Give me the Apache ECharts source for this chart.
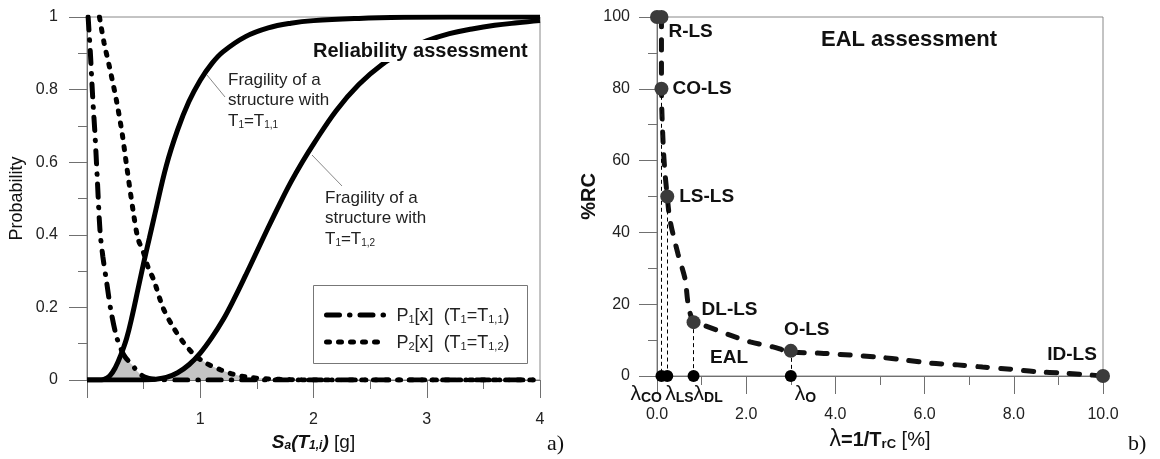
<!DOCTYPE html>
<html>
<head>
<meta charset="utf-8">
<script src="https://cdn.jsdelivr.net/npm/echarts@6.0.0/dist/echarts.min.js"></script>
<style>
  html, body { margin: 0; padding: 0; background: #fff; }
  #chart { width: 1160px; height: 459px; }
</style>
</head>
<body>
<div id="chart"></div>
<script>
// ---- a) reliability assessment ----
const frag1X = [0, 0.1, 0.15, 0.2, 0.25, 0.3, 0.35, 0.4, 0.45, 0.5, 0.55, 0.6, 0.7, 0.8, 0.9, 1.0, 1.1, 1.2, 1.4, 1.6, 1.8, 2.0, 2.4, 2.8, 3.2, 3.6, 4.0];
const frag1P = [0, 0, 0.002, 0.011, 0.034, 0.07, 0.115, 0.178, 0.25, 0.322, 0.39, 0.458, 0.59, 0.689, 0.767, 0.826, 0.871, 0.904, 0.946, 0.97, 0.983, 0.99, 0.996, 0.999, 1, 1, 1];

const frag2X = [0, 0.5, 0.6, 0.7, 0.8, 0.9, 1.0, 1.1, 1.2, 1.3, 1.4, 1.5, 1.6, 1.7, 1.8, 1.9, 2.0, 2.2, 2.4, 2.6, 2.8, 3.0, 3.2, 3.4, 3.6, 3.8, 4.0];
const frag2P = [0, 0, 0.002, 0.007, 0.02, 0.042, 0.074, 0.116, 0.165, 0.224, 0.288, 0.354, 0.42, 0.484, 0.545, 0.6, 0.65, 0.742, 0.814, 0.868, 0.906, 0.934, 0.954, 0.967, 0.977, 0.984, 0.99];

const p1X = [0.01, 0.02, 0.03, 0.05, 0.07, 0.09, 0.115, 0.14, 0.175, 0.21, 0.26, 0.31, 0.34, 0.4, 0.45, 0.51, 0.6, 0.8, 1, 1.5, 2, 2.5, 3, 3.5, 4];
const p1P = [1, 0.95, 0.9, 0.78, 0.68, 0.56, 0.41, 0.34, 0.266, 0.193, 0.12, 0.078, 0.062, 0.041, 0.022, 0.008, 0.002, 0, 0, 0, 0, 0, 0, 0, 0];

const p2X = [0.11, 0.15, 0.2, 0.26, 0.31, 0.35, 0.41, 0.45, 0.5, 0.54, 0.59, 0.67, 0.76, 0.86, 0.96, 1.06, 1.18, 1.29, 1.41, 1.6, 1.8, 2, 2.5, 3, 3.5, 4];
const p2P = [1, 0.93, 0.86, 0.77, 0.68, 0.59, 0.46, 0.39, 0.35, 0.31, 0.275, 0.2, 0.146, 0.1, 0.066, 0.045, 0.028, 0.016, 0.008, 0.003, 0.001, 0, 0, 0, 0, 0];

// overlap areas (hatched)
const shade1X = [0.15, 0.2, 0.25, 0.3, 0.32, 0.36, 0.4, 0.45, 0.51, 0.6];
const shade1P = [0, 0.011, 0.034, 0.068, 0.072, 0.054, 0.041, 0.022, 0.008, 0];
const shade2X = [0.55, 0.6, 0.7, 0.8, 0.9, 0.96, 1.06, 1.18, 1.29, 1.41, 1.6, 1.8];
const shade2P = [0, 0.002, 0.007, 0.02, 0.042, 0.064, 0.045, 0.028, 0.016, 0.008, 0.003, 0];

// ---- b) EAL assessment ----
const lsNames = ['', 'R-LS', 'CO-LS', 'LS-LS', 'DL-LS', 'O-LS', 'ID-LS'];
const lsLambda = [0, 0.1, 0.1, 0.23, 0.82, 3.0, 10.0];
const lsRC = [100, 100, 80, 50, 15, 7, 0];

const ealX = [0.1, 0.1, 0.14, 0.18, 0.23, 0.29, 0.47, 0.63, 0.7, 0.82, 1.03, 1.64, 2.09, 2.6, 3.0, 3.74, 5.0, 5.53, 6.13, 6.74, 7.3, 7.93, 8.5, 9.1, 9.7, 10];
const ealRC = [100, 80, 64, 56.5, 50, 43.5, 34, 27, 20, 15, 14.2, 11.4, 9.5, 8.1, 6.7, 6.3, 5.2, 4.5, 3.6, 3.1, 2.5, 1.9, 1.2, 0.8, 0.3, 0];

const lambdaNames = ['CO', 'LS', 'DL', 'O'];
const lambdaX = [0.1, 0.23, 0.82, 3.0];
const lambdaRC = [80, 50, 15, 7];

const FONT = "'Liberation Sans', Arial, sans-serif";
const pairs = (xs, ys) => xs.map((x, i) => [x, ys[i]]);

const annRich = {
  n: { fontSize: 17, lineHeight: 20, verticalAlign: 'bottom', fontFamily: FONT, color: '#222' },
  s: { fontSize: 10, lineHeight: 10, verticalAlign: 'bottom', fontFamily: FONT, color: '#222' }
};
const legendRich = {
  n: { fontSize: 18, lineHeight: 20, verticalAlign: 'bottom', fontFamily: FONT, color: '#222' },
  s: { fontSize: 11, lineHeight: 11, verticalAlign: 'bottom', fontFamily: FONT, color: '#222' },
  g: { width: 7 }
};

const legendText = {
  P1: '{g|}{n|P}{s|1}{n|[x]  (T}{s|1}{n|=T}{s|1,1}{n|)}',
  P2: '{g|}{n|P}{s|2}{n|[x]  (T}{s|1}{n|=T}{s|1,2}{n|)}'
};

const axisGray = '#707070';
const baseX = {
  type: 'value',
  nameLocation: 'middle',
  axisLine: { show: true, lineStyle: { color: axisGray, width: 1 } },
  axisTick: { show: true, length: 18, lineStyle: { color: axisGray } },
  minorTick: { show: true, splitNumber: 2, length: 9, lineStyle: { color: axisGray } },
  splitLine: { show: false },
  minorSplitLine: { show: false },
  axisLabel: { color: '#222', fontSize: 16, fontFamily: FONT, margin: 29 }
};

const lsLabelCfg = [
  null,
  { position: 'right', offset: [-5, 15] },
  { position: 'right', offset: [-1, 0] },
  { position: 'right', offset: [0, 0] },
  { position: 'right', offset: [-4, -12] },
  { position: 'top', offset: [16, 0] },
  { position: 'top', offset: [-31, 0] }
];
const lambdaLabelCfg = [
  { position: [6.5, 13], align: 'right' },
  { position: [4, 13], align: 'left' },
  { position: [6, 13], align: 'left' },
  { position: [10, 13], align: 'left' }
];

const chart = echarts.init(document.getElementById('chart'));

chart.setOption({
  animation: false,
  backgroundColor: '#fff',
  textStyle: { fontFamily: FONT },
  grid: [
    { left: 87, top: 17, width: 453, height: 363, show: true, borderColor: '#888', borderWidth: 1 },
    { left: 657, top: 17, width: 446, height: 359, show: true, borderColor: '#888', borderWidth: 1 }
  ],
  xAxis: [
    Object.assign({}, baseX, {
      gridIndex: 0, min: 0, max: 4, interval: 1,
      axisLabel: Object.assign({}, baseX.axisLabel, { margin: 32, formatter: v => (v === 0 ? '' : String(v)) }),
      name: '{bi|S}{bis|a}{bi|(T}{bis|1,i}{bi|)}{n| [g]}',
      nameGap: 45,
      nameTextStyle: {
        rich: {
          bi: { fontSize: 19, fontWeight: 'bold', fontStyle: 'italic', lineHeight: 22, verticalAlign: 'bottom', color: '#111', fontFamily: FONT },
          bis: { fontSize: 12, fontWeight: 'bold', fontStyle: 'italic', lineHeight: 12, verticalAlign: 'bottom', color: '#111', fontFamily: FONT },
          n: { fontSize: 19, lineHeight: 22, verticalAlign: 'bottom', color: '#111', fontFamily: FONT }
        }
      }
    }),
    Object.assign({}, baseX, {
      gridIndex: 1, min: 0, max: 10, interval: 2,
      axisLabel: Object.assign({}, baseX.axisLabel, { margin: 31, formatter: v => v.toFixed(1) }),
      name: '{l|λ}{b|=1/T}{bs|rC}{n| [%]}',
      nameGap: 45,
      nameTextStyle: {
        rich: {
          l: { fontSize: 23, lineHeight: 24, verticalAlign: 'bottom', color: '#111', fontFamily: FONT },
          b: { fontSize: 20, fontWeight: 'bold', lineHeight: 24, verticalAlign: 'bottom', color: '#111', fontFamily: FONT },
          bs: { fontSize: 13, fontWeight: 'bold', lineHeight: 13, verticalAlign: 'bottom', color: '#111', fontFamily: FONT },
          n: { fontSize: 20, lineHeight: 24, verticalAlign: 'bottom', color: '#111', fontFamily: FONT }
        }
      }
    })
  ],
  yAxis: [
    Object.assign({}, baseX, {
      gridIndex: 0, min: 0, max: 1, interval: 0.2,
      axisLabel: Object.assign({}, baseX.axisLabel, { margin: 29 }),
      name: 'Probability',
      nameGap: 61,
      nameTextStyle: { fontSize: 18, color: '#111', fontFamily: FONT }
    }),
    Object.assign({}, baseX, {
      gridIndex: 1, min: 0, max: 100, interval: 20,
      axisLabel: Object.assign({}, baseX.axisLabel, { margin: 27 }),
      name: '%RC',
      nameGap: 43,
      nameTextStyle: { fontSize: 20, fontWeight: 'bold', color: '#111', fontFamily: FONT }
    })
  ],
  legend: {
    data: ['P1', 'P2'],
    orient: 'vertical',
    left: 319,
    top: 302,
    itemWidth: 58,
    itemHeight: 14,
    itemGap: 9,
    selectedMode: false,
    lineStyle: { width: 5 },
    itemStyle: { color: 'rgba(0,0,0,0)', borderWidth: 0, opacity: 0 },
    formatter: name => legendText[name],
    textStyle: { rich: legendRich }
  },
  series: [
    {
      type: 'line', xAxisIndex: 0, yAxisIndex: 0, silent: true, z: 1,
      data: pairs(shade1X, shade1P), symbol: 'none', smooth: 0.3,
      lineStyle: { width: 0 }, areaStyle: { color: '#c4c4c4', opacity: 1 }
    },
    {
      type: 'line', xAxisIndex: 0, yAxisIndex: 0, silent: true, z: 1,
      data: pairs(shade2X, shade2P), symbol: 'none', smooth: 0.3,
      lineStyle: { width: 0 }, areaStyle: { color: '#c4c4c4', opacity: 1 }
    },
    {
      name: 'frag1', type: 'line', xAxisIndex: 0, yAxisIndex: 0,
      data: pairs(frag1X, frag1P), symbol: 'none', smooth: 0.4,
      lineStyle: { color: '#000', width: 5 }
    },
    {
      name: 'frag2', type: 'line', xAxisIndex: 0, yAxisIndex: 0,
      data: pairs(frag2X, frag2P), symbol: 'none', smooth: 0.4,
      lineStyle: { color: '#000', width: 5 }
    },
    {
      name: 'P1', type: 'line', xAxisIndex: 0, yAxisIndex: 0,
      data: pairs(p1X, p1P), symbol: 'none', smooth: 0.3,
      itemStyle: { color: '#000' },
      lineStyle: { color: '#000', width: 5, type: [13, 10, 0.5, 10], cap: 'round' }
    },
    {
      name: 'P2', type: 'line', xAxisIndex: 0, yAxisIndex: 0,
      data: pairs(p2X, p2P), symbol: 'none', smooth: 0.3,
      itemStyle: { color: '#000' },
      lineStyle: { color: '#000', width: 5, type: [3, 9], cap: 'round' }
    },
    // b) EAL curve
    {
      type: 'line', xAxisIndex: 1, yAxisIndex: 1,
      data: pairs(ealX, ealRC), symbol: 'none', smooth: 0.3,
      lineStyle: { color: '#111', width: 5, type: [10, 13], cap: 'round' }
    },
    // lambda points on the axis and drop lines
    {
      type: 'scatter', xAxisIndex: 1, yAxisIndex: 1, z: 4,
      symbolSize: 12,
      itemStyle: { color: '#000', opacity: 1 },
      data: lambdaX.map((x, i) => ({
        value: [x, 0],
        label: {
          show: true,
          position: lambdaLabelCfg[i].position,
          align: lambdaLabelCfg[i].align,
          verticalAlign: 'top',
          formatter: '{l|λ}{s|' + lambdaNames[i] + '}',
          rich: {
            l: { fontSize: 21, lineHeight: 22, verticalAlign: 'bottom', color: '#111', fontFamily: FONT },
            s: { fontSize: 14, fontWeight: 'bold', lineHeight: 14, verticalAlign: 'bottom', color: '#111', fontFamily: FONT }
          }
        }
      })),
      markLine: {
        silent: true,
        symbol: 'none',
        label: { show: false },
        lineStyle: { color: '#000', width: 1, type: [4, 3] },
        data: lambdaX.map((x, i) => [{ coord: [x, lambdaRC[i]] }, { coord: [x, 0] }])
      }
    },
    // limit state points
    {
      type: 'scatter', xAxisIndex: 1, yAxisIndex: 1, z: 5,
      symbolSize: 14,
      clip: false,
      itemStyle: { color: '#3b3b3b', opacity: 1 },
      data: lsLambda.map((x, i) => ({
        value: [x, lsRC[i]],
        label: lsNames[i] ? {
          show: true,
          position: lsLabelCfg[i].position,
          offset: lsLabelCfg[i].offset,
          formatter: lsNames[i],
          fontSize: 19, fontWeight: 'bold', color: '#111', fontFamily: FONT
        } : { show: false }
      }))
    }
  ],
  graphic: [
    { type: 'rect', shape: { x: 313.5, y: 285.5, width: 214, height: 78 }, style: { fill: 'none', stroke: '#777', lineWidth: 1 }, z: 10 },
    { type: 'text', left: 312, top: 40, z: 20, style: { text: 'Reliability assessment', font: "bold 20px 'Liberation Sans', Arial, sans-serif", fill: '#111', backgroundColor: '#fff', padding: [1, 1] } },
    { type: 'text', left: 821, top: 29, style: { text: 'EAL assessment', font: "bold 22px 'Liberation Sans', Arial, sans-serif", fill: '#111' } },
    { type: 'text', left: 710, top: 348, style: { text: 'EAL', font: "bold 19px 'Liberation Sans', Arial, sans-serif", fill: '#111' } },
    {
      type: 'text', left: 228, top: 70,
      style: {
        text: 'Fragility of a\nstructure with\n{n|T}{s|1}{n|=T}{s|1,1}',
        font: "17px 'Liberation Sans', Arial, sans-serif", fill: '#222', lineHeight: 20, rich: annRich
      }
    },
    {
      type: 'text', left: 325, top: 188,
      style: {
        text: 'Fragility of a\nstructure with\n{n|T}{s|1}{n|=T}{s|1,2}',
        font: "17px 'Liberation Sans', Arial, sans-serif", fill: '#222', lineHeight: 20, rich: annRich
      }
    },
    { type: 'line', shape: { x1: 207, y1: 75, x2: 225, y2: 97 }, style: { stroke: '#888', lineWidth: 1 } },
    { type: 'line', shape: { x1: 312, y1: 155, x2: 342, y2: 186 }, style: { stroke: '#888', lineWidth: 1 } },
    { type: 'text', left: 547, top: 433, style: { text: 'a)', font: "22px 'Liberation Serif', 'Times New Roman', serif", fill: '#111' } },
    { type: 'text', left: 1128, top: 433, style: { text: 'b)', font: "22px 'Liberation Serif', 'Times New Roman', serif", fill: '#111' } }
  ]
});
</script>
</body>
</html>
